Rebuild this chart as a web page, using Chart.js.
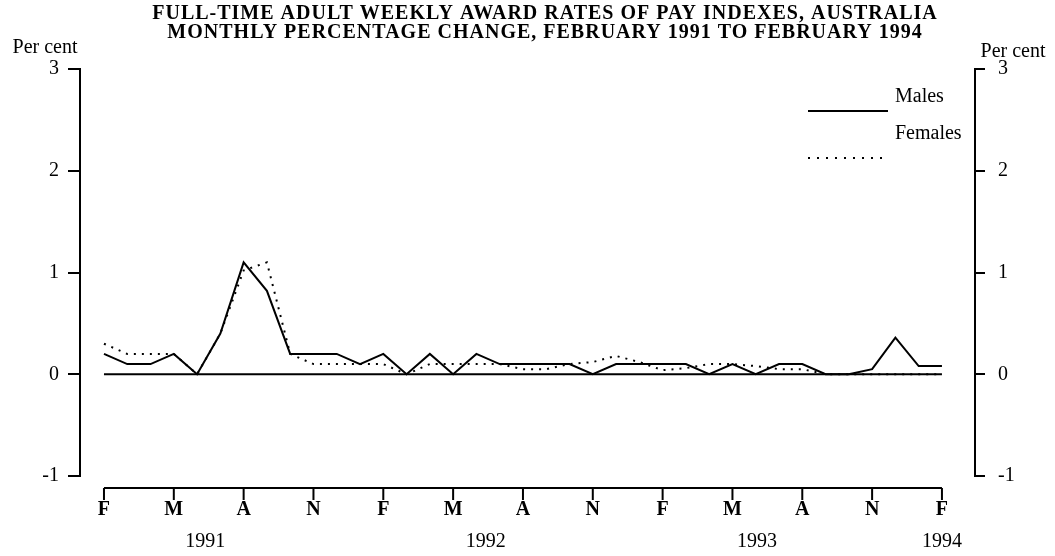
<!DOCTYPE html>
<html>
<head>
<meta charset="utf-8">
<script src="https://cdn.jsdelivr.net/npm/chart.js@4.4.1/dist/chart.umd.min.js"></script>
<style>
html, body { margin: 0; padding: 0; background: #fff; }
</style>
</head>
<body>
<canvas id="awardChart" width="1055" height="556"></canvas>
<script>
// Data: month index 0 = Feb 1991 ... 36 = Feb 1994
const males = [0.2, 0.1, 0.1, 0.2, 0.0, 0.4, 1.1, 0.82, 0.2, 0.2, 0.2, 0.1, 0.2,
               0.0, 0.2, 0.0, 0.2, 0.1, 0.1, 0.1, 0.1, 0.0, 0.1, 0.1, 0.1,
               0.1, 0.0, 0.1, 0.0, 0.1, 0.1, 0.0, 0.0, 0.05, 0.36, 0.08, 0.08];
const females = [0.3, 0.2, 0.2, 0.2, 0.0, 0.4, 1.02, 1.1, 0.2, 0.1, 0.1, 0.1, 0.1,
                 0.0, 0.1, 0.1, 0.1, 0.1, 0.05, 0.05, 0.1, 0.12, 0.18, 0.12, 0.04,
                 0.06, 0.1, 0.1, 0.08, 0.05, 0.05, 0.0, 0.0, 0.0, 0.0, 0.0, 0.0];
const monthTicks = [0, 3, 6, 9, 12, 15, 18, 21, 24, 27, 30, 33, 36];
const monthLabels = ['F', 'M', 'A', 'N', 'F', 'M', 'A', 'N', 'F', 'M', 'A', 'N', 'F'];
const yearLabels = ['1991', '1992', '1993', '1994'];
const yearAt = [4.35, 16.4, 28.05, 36];
const yTicks = [-1, 0, 1, 2, 3];

const titleLines = [
    'FULL-TIME ADULT WEEKLY AWARD RATES OF PAY INDEXES, AUSTRALIA',
    'MONTHLY PERCENTAGE CHANGE, FEBRUARY 1991 TO FEBRUARY 1994'
];

const serif = "'Liberation Serif', 'Times New Roman', serif";

const toPoints = arr => arr.map((v, i) => ({ x: i, y: v }));

// draws title, unit labels, legend, the x axis line and year labels
const extrasPlugin = {
    id: 'extras',
    afterDraw(chart) {
        const ctx = chart.ctx;
        const xs = chart.scales.x;
        const area = chart.chartArea;
        ctx.save();
        ctx.fillStyle = '#000';
        ctx.strokeStyle = '#000';
        ctx.textBaseline = 'middle';

        // title (scan is a bit stretched, so spread the letters)
        ctx.font = 'bold 20px ' + serif;
        ctx.textAlign = 'center';
        ctx.letterSpacing = '1px';
        ctx.fillText(titleLines[0], 545, 14);
        ctx.fillText(titleLines[1], 545, 33);
        ctx.letterSpacing = '0px';

        // "Per cent" labels
        ctx.font = '20px ' + serif;
        ctx.fillText('Per cent', 45, 48);
        ctx.fillText('Per cent', 1013, 52);

        // legend
        ctx.textAlign = 'left';
        ctx.fillText('Males', 895, 97);
        ctx.fillText('Females', 895, 134);
        ctx.lineWidth = 2;
        ctx.beginPath();
        ctx.moveTo(808, 111);
        ctx.lineTo(888, 111);
        ctx.stroke();
        ctx.setLineDash([2, 7]);
        ctx.beginPath();
        ctx.moveTo(808, 158);
        ctx.lineTo(886, 158);
        ctx.stroke();
        ctx.setLineDash([]);

        // x axis line sits a little below the plot
        const axisY = area.bottom + 12;
        ctx.beginPath();
        ctx.moveTo(xs.getPixelForValue(monthTicks[0]), axisY);
        ctx.lineTo(xs.getPixelForValue(monthTicks[monthTicks.length - 1]), axisY);
        monthTicks.forEach(m => {
            const px = xs.getPixelForValue(m);
            ctx.moveTo(px, axisY);
            ctx.lineTo(px, axisY + 12);
        });
        ctx.stroke();

        // years
        ctx.textAlign = 'center';
        ctx.font = '20px ' + serif;
        yearLabels.forEach((y, i) => {
            ctx.fillText(y, xs.getPixelForValue(yearAt[i]), 542);
        });
        ctx.restore();
    }
};

const yAxisCommon = {
    min: -1,
    max: 3,
    afterBuildTicks: s => { s.ticks = yTicks.map(v => ({ value: v })); },
    grid: { drawOnChartArea: false, drawTicks: true, color: '#000', lineWidth: 2 },
    border: { display: true, color: '#000', width: 2 }
};

new Chart(document.getElementById('awardChart'), {
    type: 'line',
    data: {
        datasets: [
            { label: 'Males', data: toPoints(males), borderColor: '#000', borderWidth: 2, pointRadius: 0, tension: 0 },
            { label: 'Females', data: toPoints(females), borderColor: '#000', borderWidth: 2, borderDash: [2, 6], pointRadius: 0, tension: 0 },
            { label: 'zero', data: [{ x: monthTicks[0], y: 0 }, { x: monthTicks[monthTicks.length - 1], y: 0 }], borderColor: '#000', borderWidth: 2, pointRadius: 0 }
        ]
    },
    options: {
        responsive: false,
        animation: false,
        devicePixelRatio: 1,
        layout: { padding: { top: 69, left: 0, right: 0, bottom: 0 } },
        plugins: { legend: { display: false }, title: { display: false }, tooltip: { enabled: false } },
        scales: {
            x: {
                type: 'linear',
                min: -1.03,
                max: 37.42,
                afterBuildTicks: s => { s.ticks = monthTicks.map(v => ({ value: v })); },
                afterFit: s => { s.height = 80; },
                grid: { display: false, drawTicks: false },
                border: { display: false },
                ticks: {
                    padding: 22,
                    maxRotation: 0,
                    color: '#000',
                    font: { family: serif, size: 20, weight: 'bold' },
                    callback: v => monthLabels[monthTicks.indexOf(v)]
                }
            },
            y: Object.assign({}, yAxisCommon, {
                position: 'left',
                afterFit: s => { s.width = 80; },
                grid: Object.assign({}, yAxisCommon.grid, { tickLength: 12 }),
                ticks: { padding: 9, color: '#000', font: { family: serif, size: 20 } }
            }),
            y2: Object.assign({}, yAxisCommon, {
                position: 'right',
                afterFit: s => { s.width = 80; },
                grid: Object.assign({}, yAxisCommon.grid, { tickLength: 10 }),
                ticks: { padding: 13, color: '#000', font: { family: serif, size: 20 } }
            })
        }
    },
    plugins: [extrasPlugin]
});
</script>
</body>
</html>
